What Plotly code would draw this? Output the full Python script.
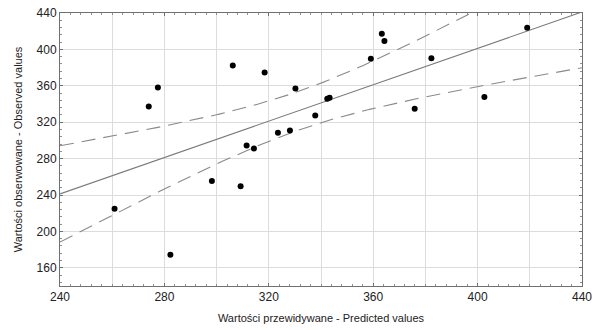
import numpy as np
import plotly.graph_objects as go

# Data: predicted (x) vs observed (y)
predicted = [260.9, 274.0, 277.5, 282.3, 298.2, 306.2, 309.2, 311.5, 314.3, 318.4,
             323.5, 328.1, 330.2, 337.8, 342.4, 343.3, 359.1, 363.3, 364.3, 375.9,
             382.3, 402.6, 419.0]
observed = [224.8, 337.3, 358.1, 174.3, 255.4, 382.2, 249.6, 294.5, 291.2, 374.5,
            308.4, 311.0, 357.0, 327.4, 345.8, 347.0, 389.6, 417.3, 409.3, 334.7,
            390.3, 347.6, 423.9]

x_ticks = [240, 280, 320, 360, 400, 440]
y_ticks = [160, 200, 240, 280, 320, 360, 400, 440]
x_title = "Wartości przewidywane - Predicted values"
y_title = "Wartości obserwowane - Observed values"

x = np.array(predicted)
y = np.array(observed)
n = len(x)
slope, intercept = np.polyfit(x, y, 1)
resid = y - (intercept + slope * x)
s2 = np.sum(resid ** 2) / (n - 2)
sxx = np.sum((x - x.mean()) ** 2)
t_crit = 2.080  # t(0.975, df=21)

xs = np.linspace(240, 440, 201)
fit = intercept + slope * xs
half = t_crit * np.sqrt(s2 * (1.0 / n + (xs - x.mean()) ** 2 / sxx))

font = "Liberation Sans, Arial, sans-serif"
fig = go.Figure()
fig.add_trace(go.Scatter(x=xs, y=fit, mode="lines", line=dict(color="#7a7a7a", width=1.1),
                         showlegend=False, hoverinfo="skip"))
fig.add_trace(go.Scatter(x=xs, y=fit + half, mode="lines",
                         line=dict(color="#8a8a8a", width=1.1, dash="14px,8px"),
                         showlegend=False, hoverinfo="skip"))
fig.add_trace(go.Scatter(x=xs, y=fit - half, mode="lines",
                         line=dict(color="#8a8a8a", width=1.1, dash="14px,8px"),
                         showlegend=False, hoverinfo="skip"))
fig.add_trace(go.Scatter(x=predicted, y=observed, mode="markers",
                         marker=dict(color="black", size=6), showlegend=False))
# invisible trace on the overlay axis to carry the 20-step grid
fig.add_trace(go.Scatter(x=[240, 440], y=[140, 440], xaxis="x2", mode="markers",
                         marker=dict(opacity=0), showlegend=False, hoverinfo="skip"))

fig.update_layout(
    width=593, height=330,
    margin=dict(l=60, r=11, t=13, b=44, autoexpand=False),
    paper_bgcolor="white", plot_bgcolor="white",
    font=dict(family=font, size=12, color="#222222"),
    xaxis=dict(range=[240, 440], tickvals=x_ticks, showgrid=False, zeroline=False,
               automargin=False,
               showline=True, linecolor="#707070", linewidth=1, mirror="ticks",
               ticks="inside", ticklen=3, tickcolor="#707070",
               minor=dict(dtick=4, ticks="inside", ticklen=2, tickcolor="#909090"),
               title=dict(text=x_title, font=dict(size=11), standoff=10),
               tickfont=dict(size=12)),
    xaxis2=dict(range=[240, 440], overlaying="x", dtick=20, tick0=240, showgrid=True,
                gridcolor="#dcdcdc", gridwidth=1, showticklabels=False, zeroline=False,
                automargin=False, side="top", layer="below traces"),
    yaxis=dict(range=[140, 440], tickvals=y_ticks, showgrid=True, gridcolor="#dcdcdc",
               zeroline=False, automargin=False,
               showline=True, linecolor="#707070", linewidth=1,
               mirror="ticks", ticks="inside", ticklen=3, tickcolor="#707070",
               minor=dict(dtick=8, ticks="inside", ticklen=2, tickcolor="#909090"),
               title=dict(text=y_title, font=dict(size=11), standoff=11),
               tickfont=dict(size=12)),
)
fig.write_html("out.html")
